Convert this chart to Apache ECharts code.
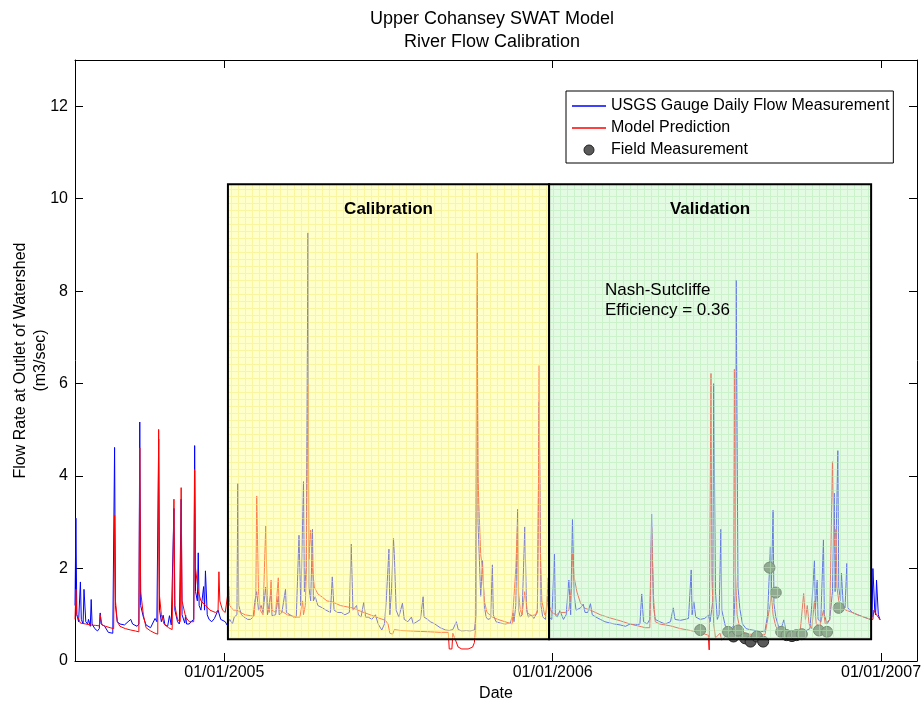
<!DOCTYPE html>
<html lang="en">
<head>
    <meta charset="UTF-8">
    <title>Upper Cohansey SWAT Model</title>
    <script src="https://cdn.jsdelivr.net/npm/echarts@6/dist/echarts.min.js"></script>
    <style>
        html, body { margin: 0; padding: 0; background: #fff; }
        #chart { width: 922px; height: 702px; }
    </style>
</head>
<body>
    <div id="chart"></div>
    <script>
        // day numbers count from 01/01/2005 (negative = 2004)
        var yearTicks = [0, 365, 730];
        var dayMin = -166, dayMax = 770;

        // USGS gauge, [day, m3/sec]
        var usgsGauge = [
            [-166,1.2],[-165,3.09],[-164,1.0],[-162,0.85],[-160,1.71],[-159,0.9],[-157,0.8],[-156,1.55],[-154,0.85],[-152,0.8],
            [-151,0.9],[-149,0.75],[-148,1.33],[-147,0.8],[-144,0.7],[-141,0.65],[-139,0.7],[-138,1.04],[-137,0.8],[-133,0.75],
            [-129,0.62],[-124,0.6],[-123,0.62],[-122,4.62],[-121,1.2],[-119,0.85],[-116,0.8],[-111,0.78],[-107,0.85],[-104,0.9],
            [-102,0.8],[-100,0.78],[-97,0.75],[-95,0.8],[-94,5.17],[-93,1.2],[-90,0.95],[-87,0.78],[-82,0.72],[-80,0.8],
            [-77,0.92],[-75,0.85],[-73,4.8],[-72,1.1],[-70,0.85],[-68,0.99],[-66,0.78],[-63,0.75],[-61,0.98],[-59,0.78],
            [-57,0.8],[-56,3.3],[-55,1.1],[-52,0.85],[-50,0.8],[-48,3.5],[-47,1.0],[-44,0.82],[-43,0.99],[-42,0.8],
            [-39,0.8],[-37,0.85],[-34,0.9],[-33,4.66],[-32,1.5],[-30,1.3],[-29,2.34],[-28,1.2],[-26,1.1],[-23,1.61],
            [-22,1.1],[-21,1.95],[-19,1.0],[-17,0.9],[-14,0.85],[-11,0.92],[-9,0.88],[-7,1.1],[-4,0.9],[-2,0.92],
            [1,0.85],[3,0.78],[6,0.9],[9,0.8],[11,0.95],[14,1.0],[15,3.84],[16,1.2],[19,1.0],[22,0.95],
            [26,0.9],[29,0.9],[32,0.95],[34,1.3],[36,1.5],[38,1.1],[41,1.2],[43,1.05],[46,1.6],[48,1.0],
            [52,1.5],[53,0.98],[57,1.0],[60,1.4],[61,1.0],[64,1.05],[68,1.55],[69,1.05],[73,1.0],[77,0.95],
            [80,0.95],[83,2.72],[85,1.2],[88,3.88],[89,1.5],[91,2.0],[93,9.26],[94,1.6],[96,1.3],[98,2.85],
            [99,1.3],[101,1.39],[104,1.2],[109,1.15],[113,1.1],[118,1.05],[120,1.82],[122,1.1],[126,1.05],[130,1.05],
            [134,1.0],[139,1.05],[141,2.53],[143,1.1],[147,1.2],[149,1.0],[152,0.95],[155,1.27],[157,0.95],[160,0.95],
            [164,0.9],[168,1.0],[171,0.8],[175,0.67],[178,0.8],[180,1.3],[183,2.42],[184,1.0],[186,1.6],[188,2.65],
            [189,2.3],[191,1.1],[194,0.95],[198,1.25],[200,0.9],[204,0.85],[208,0.95],[210,0.8],[214,0.85],[218,0.9],
            [221,1.39],[222,0.95],[226,0.9],[229,0.85],[234,0.8],[240,0.72],[246,0.67],[250,0.66],[254,0.68],[258,0.85],
            [260,0.68],[264,0.65],[269,0.66],[273,0.65],[278,0.67],[280,1.0],[281,7.95],[282,3.0],[285,1.4],[287,2.18],
            [289,1.2],[291,0.95],[293,0.9],[296,0.92],[298,2.08],[299,1.0],[302,0.85],[307,0.82],[312,0.8],[318,0.82],
            [321,1.04],[322,0.85],[324,1.2],[326,3.28],[327,1.1],[329,0.95],[331,1.0],[334,2.9],[336,1.1],[338,0.95],
            [341,1.0],[344,0.92],[348,1.05],[350,5.6],[352,1.2],[354,0.95],[357,0.9],[359,1.4],[361,0.95],[362,0.96],
            [364,0.9],[367,2.31],[368,1.0],[370,0.95],[373,1.09],[377,0.9],[380,1.0],[383,1.75],[385,1.0],[387,3.06],
            [389,1.4],[391,1.1],[396,1.15],[399,1.23],[401,1.05],[404,1.05],[407,1.24],[409,1.0],[413,0.95],[418,0.9],
            [423,0.85],[429,0.82],[434,0.8],[440,0.78],[446,0.75],[451,0.8],[457,0.78],[462,0.8],[464,1.45],[466,0.85],
            [470,0.8],[473,0.9],[475,3.18],[477,1.2],[479,0.9],[484,0.85],[490,0.8],[496,0.85],[499,1.15],[501,0.9],
            [507,0.88],[512,0.9],[516,0.92],[519,1.97],[520,1.0],[522,1.28],[524,0.95],[529,0.9],[534,0.92],[538,0.99],
            [540,0.85],[543,1.3],[544,6.0],[546,1.5],[548,0.9],[550,1.0],[552,2.85],[553,1.1],[557,0.75],[562,0.7],
            [566,0.75],[568,1.5],[569,8.24],[571,1.6],[573,1.14],[576,0.8],[580,0.7],[584,0.68],[590,0.66],[596,0.63],
            [601,0.65],[604,1.0],[607,2.47],[608,1.5],[610,3.26],[611,1.24],[613,0.95],[616,0.75],[619,0.7],[622,0.89],
            [624,0.68],[629,0.65],[634,0.64],[640,0.66],[646,0.65],[651,0.7],[653,1.2],[656,2.17],[657,1.1],[659,1.75],
            [660,0.9],[663,0.85],[666,2.62],[667,1.0],[670,0.8],[673,0.9],[676,1.5],[678,3.63],[679,1.5],[682,4.55],
            [683,1.6],[685,1.3],[686,1.9],[688,1.2],[690,1.15],[692,2.11],[693,1.15],[698,1.05],[704,1.0],[711,0.95],
            [718,0.9],[720,0.95],[721,2.0],[723,1.1],[724,1.0],[725,1.75],[727,1.0],[729,0.89]
        ];

        // SWAT model, [day, m3/sec]
        var modelPrediction = [
            [-166,0.9],[-165,1.55],[-164,1.0],[-160,0.82],[-154,0.8],[-149,0.78],[-143,0.77],[-139,0.76],[-138,1.0],[-136,0.78],
            [-132,0.75],[-127,0.72],[-123,0.7],[-122,3.16],[-121,1.3],[-119,0.85],[-116,0.75],[-110,0.7],[-104,0.67],[-99,0.65],
            [-95,0.63],[-94,4.61],[-93,1.5],[-90,1.0],[-87,0.72],[-82,0.65],[-77,0.6],[-74,0.58],[-73,5.01],[-72,1.4],
            [-70,1.0],[-67,0.8],[-62,0.72],[-58,0.68],[-57,0.7],[-56,3.5],[-55,1.2],[-52,0.9],[-49,0.85],[-48,3.75],
            [-47,1.3],[-43,0.95],[-39,0.85],[-34,0.85],[-33,4.14],[-32,2.0],[-29,1.5],[-26,1.3],[-21,1.2],[-16,1.1],
            [-10,1.05],[-7,1.08],[-6,1.93],[-5,1.3],[-2,1.1],[1,1.05],[5,1.61],[6,1.2],[10,1.1],[14,1.1],
            [18,1.05],[23,1.0],[29,0.98],[33,0.97],[35,1.4],[36,3.57],[38,1.5],[40,1.1],[43,1.0],[46,2.92],
            [48,1.2],[50,1.05],[52,1.75],[53,1.1],[57,1.05],[60,1.8],[61,1.1],[66,1.05],[70,1.0],[76,0.97],
            [81,0.95],[84,0.95],[87,1.3],[88,1.0],[90,1.2],[91,1.8],[93,6.0],[94,2.2],[96,2.83],[98,2.0],
            [100,1.6],[104,1.45],[109,1.38],[114,1.3],[120,1.28],[129,1.2],[134,1.18],[142,1.15],[151,1.08],[162,1.0],
            [173,0.92],[179,0.88],[182,0.8],[184,0.6],[187,0.58],[189,0.68],[196,0.66],[207,0.65],[218,0.64],[229,0.63],
            [240,0.62],[249,0.62],[250,0.26],[253,0.26],[254,0.6],[257,0.45],[260,0.3],[264,0.26],[271,0.26],[276,0.3],
            [278,0.4],[279,0.65],[281,8.83],[282,4.0],[283,3.37],[285,2.3],[287,2.0],[289,1.3],[292,1.05],[298,0.95],
            [304,0.9],[312,0.85],[320,0.8],[322,0.78],[324,2.0],[326,3.0],[327,1.5],[329,1.1],[331,1.0],[334,1.5],
            [337,1.05],[341,0.98],[346,1.0],[348,1.1],[349,3.0],[350,6.39],[351,2.5],[353,1.3],[356,1.0],[358,1.05],
            [360,1.8],[361,1.2],[364,1.05],[369,1.0],[373,1.05],[379,1.05],[383,1.1],[386,1.6],[387,2.33],[389,1.8],
            [392,1.49],[396,1.25],[401,1.14],[407,1.1],[418,1.0],[429,0.93],[440,0.87],[451,0.8],[464,0.74],[468,0.72],
            [473,0.72],[475,2.89],[477,1.4],[479,0.85],[484,0.8],[496,0.76],[507,0.7],[518,0.66],[531,0.6],[538,0.56],
            [539,0.24],[540,0.28],[541,6.22],[542,1.8],[544,0.8],[546,0.5],[551,0.6],[553,0.45],[558,0.55],[562,0.5],
            [566,0.55],[567,6.31],[568,2.0],[570,1.0],[573,0.7],[579,0.6],[584,0.58],[596,0.57],[601,0.57],[604,0.9],
            [607,1.25],[608,1.47],[610,1.0],[613,0.75],[618,0.62],[629,0.6],[640,0.6],[644,1.46],[646,0.9],[648,1.2],
            [650,0.8],[653,0.7],[656,1.3],[658,0.8],[662,0.75],[666,1.1],[668,0.8],[673,0.9],[676,4.31],[678,2.5],
            [680,2.85],[681,1.6],[683,1.3],[687,1.15],[691,1.1],[698,1.05],[704,1.0],[711,0.95],[718,0.9],[721,0.9],
            [722,1.1],[724,1.1],[725,1.0],[729,0.89]
        ];

        // spot measurements in the field, [day, m3/sec]
        var fieldMeasurement = [
            [529,0.67],[560,0.63],[566,0.53],[571,0.66],[579,0.49],[585,0.42],[592,0.53],[599,0.42],[606,2.02],
            [613,1.48],[619,0.63],[625,0.56],[631,0.54],[636,0.56],[642,0.58],[661,0.66],[670,0.63],[683,1.15]
        ];

        // the two periods, [startDay, endDay, bottom, top]
        var calibrationPeriod = [4, 361, 0.47, 10.31];
        var validationPeriod = [361, 719, 0.47, 10.31];

        var DAY0 = Date.UTC(2005, 0, 1);
        function dayLabel(d) {
            var t = new Date(DAY0 + Math.round(d) * 86400000);
            var mm = ('0' + (t.getUTCMonth() + 1)).slice(-2);
            var dd = ('0' + t.getUTCDate()).slice(-2);
            return mm + '/' + dd + '/' + t.getUTCFullYear();
        }

        // light grid-paper fill for the period boxes
        function gridPaper(base, line) {
            var c = document.createElement('canvas');
            c.width = 7; c.height = 7;
            var g = c.getContext('2d');
            g.fillStyle = base;
            g.fillRect(0, 0, 7, 7);
            g.fillStyle = line;
            g.fillRect(0, 0, 7, 1);
            g.fillRect(0, 1, 1, 6);
            return { image: c, repeat: 'repeat' };
        }

        // small dot centred in the legend slot
        function dotIcon() {
            var c = document.createElement('canvas');
            c.width = 34; c.height = 16;
            var g = c.getContext('2d');
            g.beginPath();
            g.arc(17, 8, 5, 0, Math.PI * 2);
            g.fillStyle = '#5a5a5a';
            g.fill();
            g.lineWidth = 1;
            g.strokeStyle = '#222';
            g.stroke();
            return 'image://' + c.toDataURL();
        }

        var font = 'Liberation Sans, Arial, sans-serif';
        var lineIcon = 'path://M0,0H34V1.5H0Z';
        var chart = echarts.init(document.getElementById('chart'));

        function periodBox(p, name, base, line) {
            return [
                { name: name, xAxis: p[0], yAxis: p[2], itemStyle: { color: gridPaper(base, line) } },
                { xAxis: p[1], yAxis: p[3] }
            ];
        }

        chart.setOption({
            animation: false,
            textStyle: { fontFamily: font, color: '#000' },
            title: {
                text: 'Upper Cohansey SWAT Model\nRiver Flow Calibration',
                left: 487,
                textAlign: 'center',
                top: 3,
                textStyle: { fontFamily: font, fontSize: 18, fontWeight: 'normal', color: '#000', lineHeight: 23 }
            },
            legend: {
                orient: 'vertical',
                left: 566,
                top: 91,
                padding: [7, 4, 5, 6],
                itemWidth: 34,
                itemHeight: 16,
                itemGap: 6,
                itemTextGap: 5,
                backgroundColor: '#fff',
                borderColor: '#000',
                borderWidth: 1,
                borderRadius: 0,
                textStyle: { fontFamily: font, fontSize: 16, color: '#000' },
                data: [
                    { name: 'USGS Gauge Daily Flow Measurement', icon: lineIcon },
                    { name: 'Model Prediction', icon: lineIcon },
                    { name: 'Field Measurement', icon: dotIcon() }
                ]
            },
            grid: { left: 75, right: 5, top: 60, bottom: 41, outerBoundsMode: 'none' },
            xAxis: [{
                type: 'value',
                min: dayMin,
                max: dayMax,
                name: 'Date',
                nameLocation: 'middle',
                nameGap: 25,
                nameTextStyle: { fontFamily: font, fontSize: 16, color: '#000' },
                axisLine: { show: true, onZero: false, lineStyle: { color: '#000', width: 1 } },
                axisTick: { show: true, inside: true, length: 8, customValues: yearTicks, lineStyle: { color: '#000' } },
                axisLabel: {
                    customValues: yearTicks, margin: 4, fontFamily: font, fontSize: 16, color: '#000',
                    formatter: function (v) { return dayLabel(v); }
                },
                splitLine: { show: false }
            }, {
                type: 'value',
                position: 'top',
                min: dayMin,
                max: dayMax,
                axisLine: { show: true, onZero: false, lineStyle: { color: '#000', width: 1 } },
                axisTick: { show: true, inside: true, length: 8, customValues: yearTicks, lineStyle: { color: '#000' } },
                axisLabel: { show: false },
                splitLine: { show: false }
            }],
            yAxis: [{
                type: 'value',
                min: 0,
                max: 13,
                interval: 2,
                name: 'Flow Rate at Outlet of Watershed\n(m3/sec)',
                nameLocation: 'middle',
                nameGap: 24,
                nameMoveOverlap: false,
                nameTextStyle: { fontFamily: font, fontSize: 16, color: '#000', lineHeight: 20 },
                axisLine: { show: true, onZero: false, lineStyle: { color: '#000', width: 1 } },
                axisTick: { show: true, inside: true, length: 8, lineStyle: { color: '#000' } },
                axisLabel: {
                    margin: 7, fontFamily: font, fontSize: 16, color: '#000',
                    formatter: function (v) { return v % 2 ? '' : String(v); }
                },
                splitLine: { show: false }
            }, {
                type: 'value',
                position: 'right',
                min: 0,
                max: 13,
                interval: 2,
                axisLine: { show: true, onZero: false, lineStyle: { color: '#000', width: 1 } },
                axisTick: { show: true, inside: true, length: 8, lineStyle: { color: '#000' } },
                axisLabel: { show: false },
                splitLine: { show: false }
            }],
            graphic: [{
                type: 'text',
                left: 605,
                top: 280,
                z: 20,
                style: {
                    text: 'Nash-Sutcliffe\nEfficiency = 0.36',
                    font: '17px ' + font,
                    lineHeight: 20,
                    fill: '#000'
                }
            }],
            series: [{
                name: 'USGS Gauge Daily Flow Measurement',
                type: 'line',
                data: usgsGauge,
                symbol: 'none',
                z: 2,
                lineStyle: { color: '#0000ff', width: 1 },
                itemStyle: { color: '#0000ff' }
            }, {
                name: 'Model Prediction',
                type: 'line',
                data: modelPrediction,
                symbol: 'none',
                z: 2,
                lineStyle: { color: '#ff0000', width: 1 },
                itemStyle: { color: '#ff0000' }
            }, {
                name: 'Field Measurement',
                type: 'line',
                data: fieldMeasurement,
                symbol: 'circle',
                symbolSize: 11,
                showSymbol: true,
                z: 2,
                lineStyle: { opacity: 0 },
                itemStyle: { color: '#5a5a5a', borderColor: '#222', borderWidth: 1 }
            }, {
                // translucent period boxes drawn over the curves
                name: 'periods',
                type: 'line',
                data: [],
                z: 5,
                silent: true,
                markArea: {
                    silent: true,
                    z: 10,
                    itemStyle: { borderColor: '#000', borderWidth: 2 },
                    label: {
                        show: true,
                        position: 'insideTop',
                        distance: 17,
                        fontFamily: font,
                        fontSize: 17,
                        fontWeight: 'bold',
                        color: '#000'
                    },
                    data: [
                        periodBox(calibrationPeriod, 'Calibration', 'rgba(255,255,150,0.5)', 'rgba(245,235,120,0.5)'),
                        periodBox(validationPeriod, 'Validation', 'rgba(200,245,200,0.5)', 'rgba(180,235,180,0.5)')
                    ]
                }
            }]
        });
    </script>
</body>
</html>
